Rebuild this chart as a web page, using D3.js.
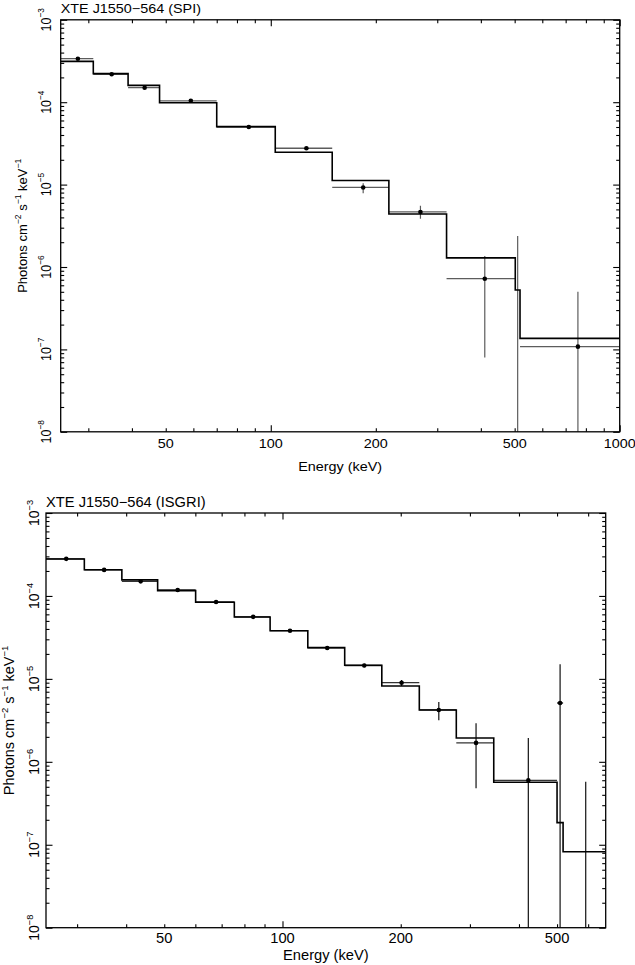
<!DOCTYPE html>
<html>
<head>
<meta charset="utf-8">
<script src="https://cdn.jsdelivr.net/npm/d3@7"></script>
<style>
  body { margin: 0; background: #fff; }
  svg { display: block; }
  text { font-family: "Liberation Sans", Arial, sans-serif; fill: #000; }
</style>
</head>
<body>
<svg id="chart" width="635" height="965"></svg>
<script>
// SPI spectrum (keV bin edges, model and unfolded data in photons/cm2/s/keV)
const spiEdges = [25, 31, 39, 48, 70, 103, 150, 218, 319, 502, 518, 1000];
const spiModel = [3.13e-4, 2.22e-4, 1.60e-4, 9.86e-5, 5.05e-5, 2.47e-5, 1.12e-5, 4.40e-6, 1.29e-6, 5.26e-7, 1.36e-7];
const spiFlux  = [3.37e-4, 2.18e-4, 1.50e-4, 1.04e-4, 5.00e-5, 2.76e-5, 9.23e-6, 4.66e-6, 7.21e-7, 2e-9, 1.08e-7];
const spiErrLo = [3.27e-4, 2.12e-4, 1.45e-4, 1.00e-4, 4.85e-5, 2.65e-5, 7.83e-6, 3.85e-6, 8.0e-8, 1e-9, 1e-9];
const spiErrHi = [3.47e-4, 2.24e-4, 1.55e-4, 1.08e-4, 5.15e-5, 2.87e-5, 1.04e-5, 5.55e-6, 1.36e-6, 2.38e-6, 5.01e-7];
const spiXTicks = [50, 100, 200, 500, 1000];

// ISGRI spectrum
const isgriEdges = [25, 31.3, 39, 48.1, 60.1, 75.4, 93, 116, 144, 179, 223, 277, 345, 500, 518, 665];
const isgriModel = [2.79e-4, 2.07e-4, 1.56e-4, 1.16e-4, 8.38e-5, 5.57e-5, 3.81e-5, 2.38e-5, 1.46e-5, 8.2e-6, 4.22e-6, 1.94e-6, 5.66e-7, 1.85e-7, 8.24e-8];
const isgriFlux  = [2.80e-4, 2.06e-4, 1.50e-4, 1.18e-4, 8.45e-5, 5.60e-5, 3.81e-5, 2.36e-5, 1.45e-5, 9.0e-6, 4.22e-6, 1.69e-6, 5.98e-7, 5.12e-6, 2e-9];
const isgriErrLo = [2.74e-4, 2.02e-4, 1.46e-4, 1.15e-4, 8.20e-5, 5.40e-5, 3.68e-5, 2.26e-5, 1.38e-5, 8.2e-6, 3.17e-6, 4.80e-7, 1e-9, 1e-9, 1e-9];
const isgriErrHi = [2.86e-4, 2.10e-4, 1.54e-4, 1.21e-4, 8.70e-5, 5.80e-5, 3.94e-5, 2.46e-5, 1.52e-5, 9.7e-6, 5.26e-6, 2.91e-6, 1.94e-6, 1.50e-5, 5.75e-7];
const isgriXTicks = [50, 100, 200, 500];

const yTickValues = [1e-8, 1e-7, 1e-6, 1e-5, 1e-4, 1e-3];
const yTickLabels = ["10^{−8}", "10^{−7}", "10^{−6}", "10^{−5}", "10^{−4}", "10^{−3}"];
const yTitle = "Photons cm^{−2} s^{−1} keV^{−1}";
const xTitle = "Energy (keV)";

const svg = d3.select("#chart");

// text with ^{...} superscripts
function richText(sel, str, fs) {
  const rise = fs * 0.42;
  let up = false;
  str.split(/(\^\{[^}]*\})/).filter(s => s.length).forEach(p => {
    if (p.startsWith("^{")) {
      sel.append("tspan").attr("dy", -rise).attr("font-size", fs * 0.66).text(p.slice(2, -1));
      up = true;
    } else {
      const t = sel.append("tspan").text(p);
      if (up) { t.attr("dy", rise); up = false; }
    }
  });
}

function label(g, str, x, y, cfg, rotate, size) {
  const fs = size || cfg.font;
  const t = g.append("text")
    .attr("transform", `translate(${x},${y}) scale(${cfg.sx},1)` + (rotate ? " rotate(-90)" : ""))
    .attr("font-size", fs)
    .attr("text-anchor", cfg.anchor || "middle");
  richText(t, str, fs);
  return t;
}

function drawPanel(cfg, i) {
  const x = d3.scaleLog().domain([cfg.edges[0], cfg.edges[cfg.edges.length - 1]]).range([cfg.left, cfg.right]);
  const y = d3.scaleLog().domain([1e-8, 1e-3]).range([cfg.bottom, cfg.top]);
  const g = svg.append("g");

  g.append("clipPath").attr("id", "clip" + i)
    .append("rect")
    .attr("x", cfg.left).attr("y", cfg.top)
    .attr("width", cfg.right - cfg.left).attr("height", cfg.bottom - cfg.top);

  const plot = g.append("g").attr("clip-path", `url(#clip${i})`);
  const bins = cfg.flux.map((f, k) => ({
    lo: cfg.edges[k], hi: cfg.edges[k + 1],
    mid: (cfg.edges[k] + cfg.edges[k + 1]) / 2,
    flux: f, eLo: cfg.errLo[k], eHi: cfg.errHi[k]
  }));

  // data: horizontal bin bars
  plot.selectAll(".bar").data(bins).join("line")
    .attr("x1", d => x(d.lo)).attr("x2", d => x(d.hi))
    .attr("y1", d => y(d.flux)).attr("y2", d => y(d.flux))
    .attr("stroke", cfg.barColor).attr("stroke-width", 1.3);

  // error bars
  plot.selectAll(".err").data(bins).join("line")
    .attr("x1", d => x(d.mid)).attr("x2", d => x(d.mid))
    .attr("y1", d => y(d.eLo)).attr("y2", d => y(d.eHi))
    .attr("stroke", cfg.errColor).attr("stroke-width", 1.2);

  // model histogram
  const steps = cfg.edges.map((e, k) => [e, cfg.model[Math.min(k, cfg.model.length - 1)]]);
  const line = d3.line()
    .x(d => x(d[0]))
    .y(d => y(d[1]))
    .curve(d3.curveStepAfter);
  plot.append("path")
    .attr("d", line(steps))
    .attr("fill", "none")
    .attr("stroke", "#000")
    .attr("stroke-width", 1.6);

  plot.selectAll(".dot").data(bins).join("circle")
    .attr("cx", d => x(d.mid)).attr("cy", d => y(d.flux))
    .attr("r", 2.3).attr("fill", "#000");

  // ticks on all four sides, pointing inward
  const xMajor = x.ticks().filter(v => Math.abs(Math.log10(v) % 1) < 1e-9);
  const xMinor = x.ticks().filter(v => !xMajor.includes(v));
  const yMajor = y.ticks().filter(v => Math.abs(Math.log10(v) - Math.round(Math.log10(v))) < 1e-9);
  const yMinor = y.ticks().filter(v => !yMajor.includes(v));
  const sides = [
    [d3.axisBottom, x, 0, cfg.bottom, xMajor, xMinor],
    [d3.axisTop, x, 0, cfg.top, xMajor, xMinor],
    [d3.axisLeft, y, cfg.left, 0, yMajor, yMinor],
    [d3.axisRight, y, cfg.right, 0, yMajor, yMinor]
  ];
  sides.forEach(([axis, sc, tx, ty, major, minor]) => {
    [[minor, 3.5], [major, 6.5]].forEach(([vals, len]) => {
      const a = g.append("g")
        .attr("transform", `translate(${tx},${ty})`)
        .call(axis(sc).tickValues(vals).tickSize(-len).tickFormat(() => ""));
      a.select(".domain").remove();
      a.selectAll("line").attr("stroke", "#000").attr("stroke-width", 1.1);
    });
  });

  g.append("rect")
    .attr("x", cfg.left).attr("y", cfg.top)
    .attr("width", cfg.right - cfg.left).attr("height", cfg.bottom - cfg.top)
    .attr("fill", "none").attr("stroke", "#000").attr("stroke-width", 1.3);

  // labels
  cfg.xTicks.forEach(v => label(g, String(v), x(v), cfg.xLabelY, cfg));
  yTickValues.forEach((v, k) => label(g, yTickLabels[k], cfg.yLabelX, y(v), cfg, true));
  label(g, xTitle, (cfg.left + cfg.right) / 2, cfg.xTitleY, cfg);
  label(g, yTitle, cfg.yTitleX, (cfg.top + cfg.bottom) / 2, { font: cfg.font, sx: 1 }, true, cfg.yTitleFont);
  label(g, cfg.title, cfg.left, cfg.titleY, { font: cfg.font, sx: cfg.sx, anchor: "start" }, false, cfg.titleFont);
}

const panels = [
  {
    title: "XTE J1550−564 (SPI)",
    edges: spiEdges, model: spiModel, flux: spiFlux, errLo: spiErrLo, errHi: spiErrHi, xTicks: spiXTicks,
    left: 60.7, right: 619.7, top: 19.8, bottom: 431.8,
    font: 12.5, sx: 1.15, yTitleFont: 13, titleFont: 12.5,
    titleY: 13, xLabelY: 448.3, xTitleY: 470.5, yLabelX: 50.5, yTitleX: 26.5,
    barColor: "#5c5c5c", errColor: "#5c5c5c"
  },
  {
    title: "XTE J1550−564 (ISGRI)",
    edges: isgriEdges, model: isgriModel, flux: isgriFlux, errLo: isgriErrLo, errHi: isgriErrHi, xTicks: isgriXTicks,
    left: 46, right: 605.7, top: 513, bottom: 927.7,
    font: 14, sx: 1.05, yTitleFont: 14.5, titleFont: 14,
    titleY: 507.3, xLabelY: 943.3, xTitleY: 960, yLabelX: 39, yTitleX: 14,
    barColor: "#333", errColor: "#111"
  }
];

panels.forEach(drawPanel);
</script>
</body>
</html>
